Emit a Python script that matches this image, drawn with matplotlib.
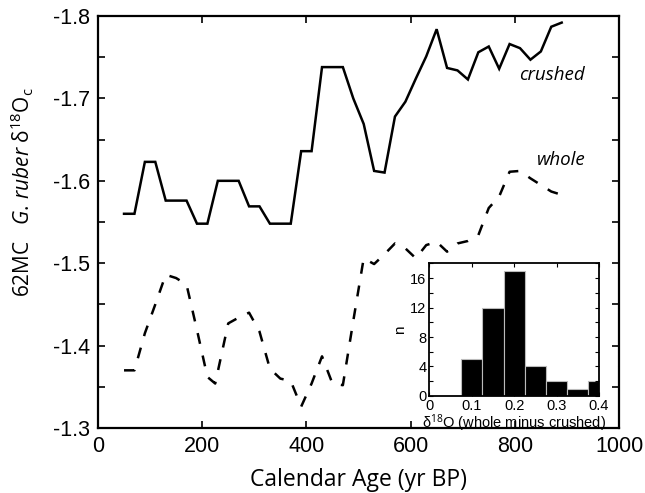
import matplotlib
matplotlib.use("Agg")
import matplotlib.pyplot as plt
from matplotlib.ticker import MultipleLocator

# ---- data ----
crushed_age = [50, 70, 90, 110, 130, 150, 170, 190, 210, 230, 250, 270, 290, 310, 330,
               350, 370, 390, 410, 430, 450, 470, 490, 510, 530, 550, 570, 590, 610, 630,
               650, 670, 690, 710, 730, 750, 770, 790, 810, 830, 850, 870, 890]
crushed_d18o = [-1.56, -1.56, -1.623, -1.623, -1.576, -1.576, -1.576, -1.548, -1.548, -1.60,
                -1.60, -1.60, -1.569, -1.569, -1.548, -1.548, -1.548, -1.636, -1.636, -1.738,
                -1.738, -1.738, -1.70, -1.669, -1.612, -1.610, -1.678, -1.696, -1.724, -1.751,
                -1.784, -1.737, -1.734, -1.723, -1.756, -1.763, -1.736, -1.766, -1.761, -1.747,
                -1.757, -1.787, -1.792]

whole_age = [50, 70, 90, 110, 130, 150, 170, 190, 210, 225, 250, 270, 290, 310, 330,
             350, 370, 390, 410, 430, 450, 470, 490, 510, 530, 550, 570, 590, 610, 630,
             650, 670, 690, 710, 730, 750, 770, 790, 810, 830, 850, 870, 890]
whole_d18o = [-1.370, -1.370, -1.415, -1.450, -1.486, -1.482, -1.474, -1.419, -1.362, -1.354,
              -1.427, -1.434, -1.440, -1.417, -1.372, -1.360, -1.357, -1.326, -1.354, -1.387,
              -1.354, -1.352, -1.430, -1.506, -1.499, -1.511, -1.524, -1.518, -1.506, -1.522,
              -1.526, -1.514, -1.524, -1.527, -1.534, -1.567, -1.581, -1.611, -1.612, -1.603,
              -1.595, -1.587, -1.583]

hist_left_edges = [0.075, 0.125, 0.175, 0.225, 0.275, 0.325, 0.375]
hist_counts = [5, 12, 17, 4, 2, 1, 2]
hist_bin_width = 0.05

main_xticks = [0, 200, 400, 600, 800, 1000]
main_yticks = [-1.8, -1.7, -1.6, -1.5, -1.4, -1.3]
inset_xticks = [0, 0.1, 0.2, 0.3, 0.4]
inset_yticks = [0, 4, 8, 12, 16]

# ---- style ----
plt.rcParams['font.family'] = ['Liberation Sans', 'DejaVu Sans']
plt.rcParams['mathtext.fontset'] = 'custom'
plt.rcParams['mathtext.rm'] = 'Open Sans'
plt.rcParams['mathtext.it'] = 'Open Sans:italic'

fig = plt.figure(figsize=(6.45, 4.93), dpi=100)
ax = fig.add_axes([0.1519, 0.1318, 0.8078, 0.8357])

ax.plot(crushed_age, crushed_d18o, color='black', lw=1.8, solid_joinstyle='miter')
ax.plot(whole_age, whole_d18o, color='black', lw=1.8, linestyle=(0, (4.4, 4.8)),
        dash_capstyle='butt')

ax.set_xlim(0, 1000)
ax.set_ylim(-1.3, -1.8)
ax.set_xticks(main_xticks)
ax.set_yticks(main_yticks)
ax.yaxis.set_minor_locator(MultipleLocator(0.05))
ax.set_yticklabels([f"{v:.1f}" for v in main_yticks])
ax.tick_params(which='both', direction='in', top=True, right=True, labelsize=15.5,
               width=1.2, pad=6)
ax.tick_params(which='major', length=5)
ax.tick_params(which='minor', length=5)
for s in ax.spines.values():
    s.set_linewidth(1.6)

ax.set_xlabel("Calendar Age (yr BP)", fontsize=16.5, family='Open Sans', labelpad=8)
ax.set_ylabel("62MC   $\\mathit{G.\\,ruber}$ δ$^{18}$O$_{\\mathrm{c}}$", fontsize=15,
              family=['Open Sans', 'DejaVu Sans'])
ax.yaxis.set_label_coords(-0.118, 0.573)

ax.text(0.808, 0.857, "crushed", transform=ax.transAxes, fontsize=13.5, style='italic',
        family='Open Sans', ha='left', va='center')
ax.text(0.843, 0.65, "whole", transform=ax.transAxes, fontsize=13.5, style='italic',
        family='Open Sans', ha='left', va='center')

# ---- inset histogram ----
ins = fig.add_axes([0.6656, 0.1968, 0.2631, 0.2691])
ins.bar(hist_left_edges, hist_counts, width=hist_bin_width, align='edge',
        color='black', edgecolor='#bbbbbb', linewidth=0.8)
ins.set_xlim(0, 0.4)
ins.set_ylim(0, 18)
ins.set_xticks(inset_xticks)
ins.set_xticklabels(["0", "0.1", "0.2", "0.3", "0.4"])
ins.set_yticks(inset_yticks)
ins.yaxis.set_minor_locator(MultipleLocator(2))
ins.tick_params(which='both', direction='in', top=True, right=True, labelsize=10.5,
                length=3, width=0.8, pad=2)
for s in ins.spines.values():
    s.set_linewidth(1.3)
ins.set_xlabel("δ$^{18}$O (whole minus crushed)", fontsize=10.5, labelpad=0)
ins.set_ylabel("n", fontsize=11, labelpad=2)

fig.savefig("out.png", dpi=100)
